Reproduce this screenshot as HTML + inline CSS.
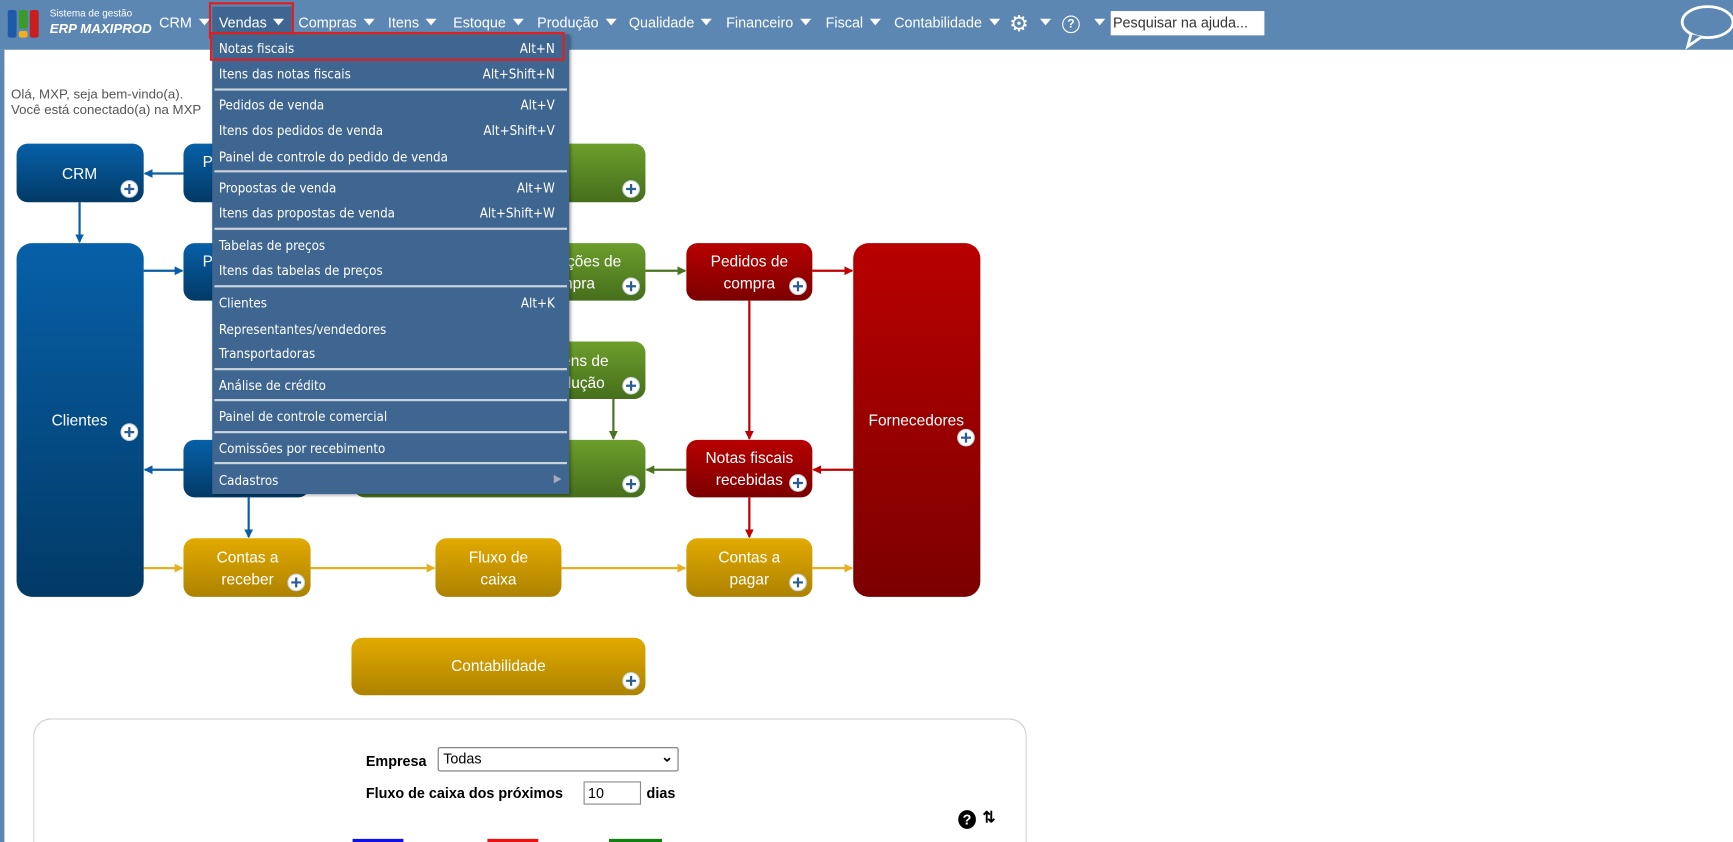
<!DOCTYPE html>
<html><head><meta charset="utf-8"><style>
html,body{margin:0;padding:0;width:1733px;height:842px;overflow:hidden;background:#fff;font-family:"Liberation Sans",sans-serif}
#w{position:absolute;left:0;top:0;width:1568px;height:762px;transform:scale(1.10523);transform-origin:0 0;overflow:hidden}
.nav{position:absolute;left:0;top:0;width:1568px;height:45px;background:#5c87b2}
.ni{position:absolute;top:13px;color:#fff;font-size:13px;white-space:nowrap}
.tri{display:inline-block;width:0;height:0;border-left:5px solid transparent;border-right:5px solid transparent;border-top:6px solid #fff;margin-left:6px;vertical-align:2px}
.menu{position:absolute;left:192px;top:31px;width:323px;height:416px;background:#3f6690;box-shadow:1px 1px 3px rgba(0,0,0,.4)}
.mi{position:absolute;left:6px;right:13px;color:#fff;font-family:"DejaVu Sans Condensed","Liberation Sans",sans-serif;font-size:12px}
.mi span{float:right}
.sep{position:absolute;left:2px;right:2px;height:2px;background:#c9d3dd}
.txt{position:absolute;font-size:12px;color:#555;left:10px}
</style></head><body><div id="w">
<div style="position:absolute;left:0;top:45px;width:4px;height:717px;background:#5c87b2"></div>
<div class="nav">
 <div style="position:absolute;left:7px;top:9px;width:8px;height:25px;background:#1e5aa8;border-radius:2px"></div>
 <div style="position:absolute;left:17px;top:9px;width:8px;height:17px;background:#3a9a2a;border-radius:2px"></div>
 <div style="position:absolute;left:17px;top:28px;width:8px;height:6px;background:#f0b020;border-radius:2px"></div>
 <div style="position:absolute;left:27px;top:9px;width:8px;height:25px;background:#c81e1e;border-radius:2px"></div>
 <div style="position:absolute;left:45px;top:7px;color:#fff;font-size:9px">Sistema de gestão</div>
 <div style="position:absolute;left:45px;top:19px;color:#fff;font-size:12px;font-weight:bold;font-style:italic">ERP MAXIPROD</div>
 <div class="ni" style="left:144px">CRM<i class="tri"></i></div>
 <div style="position:absolute;left:192px;top:6px;width:72px;height:30px;background:#3f6690"></div>
 <div style="position:absolute;left:189px;top:2px;width:77px;height:33px;border:2px solid #e02020;box-sizing:border-box"></div>
 <div class="ni" style="left:198px">Vendas<i class="tri"></i></div>
 <div class="ni" style="left:270px">Compras<i class="tri"></i></div>
 <div class="ni" style="left:351px">Itens<i class="tri"></i></div>
 <div class="ni" style="left:410px">Estoque<i class="tri"></i></div>
 <div class="ni" style="left:486px">Produção<i class="tri"></i></div>
 <div class="ni" style="left:569px">Qualidade<i class="tri"></i></div>
 <div class="ni" style="left:657px">Financeiro<i class="tri"></i></div>
 <div class="ni" style="left:747px">Fiscal<i class="tri"></i></div>
 <div class="ni" style="left:809px">Contabilidade<i class="tri"></i></div>
 <div class="ni" style="left:913px;top:9px;font-size:20px">⚙</div><div class="ni" style="left:935px"><i class="tri"></i></div>
 <div style="position:absolute;left:961px;top:14px;width:14px;height:14px;border:1.5px solid #fff;border-radius:50%;color:#fff;font-size:11px;text-align:center;line-height:14px;font-weight:bold">?</div>
 <div class="ni" style="left:984px"><i class="tri"></i></div>
 <div style="position:absolute;left:1005px;top:10px;width:139px;height:22px;background:#fff;font-size:13px;color:#333;line-height:22px;padding-left:2px;box-sizing:border-box">Pesquisar na ajuda...</div>
 <svg style="position:absolute;left:1518px;top:3px" width="54" height="42"><ellipse cx="27" cy="17" rx="23" ry="14" fill="none" stroke="#fff" stroke-width="2.5"/><path d="M12 28 L9 39 L22 30" fill="#5c87b2" stroke="#fff" stroke-width="2.5"/></svg>
</div>
<div class="txt" style="top:78px">Olá, MXP, seja bem-vindo(a).</div>
<div class="txt" style="top:92px">Você está conectado(a) na MXP</div>

<svg style="position:absolute;left:0;top:0" width="950" height="650">
<defs>
<linearGradient id="b" x1="0" y1="0" x2="0" y2="1"><stop offset="0" stop-color="#0760a8"/><stop offset="1" stop-color="#023a66"/></linearGradient>
<linearGradient id="g" x1="0" y1="0" x2="0" y2="1"><stop offset="0" stop-color="#6c9e2c"/><stop offset="1" stop-color="#466e1c"/></linearGradient>
<linearGradient id="r" x1="0" y1="0" x2="0" y2="1"><stop offset="0" stop-color="#b80000"/><stop offset="1" stop-color="#7c0000"/></linearGradient>
<linearGradient id="y" x1="0" y1="0" x2="0" y2="1"><stop offset="0" stop-color="#e2aa00"/><stop offset="1" stop-color="#ad8200"/></linearGradient>
<marker id="mb" markerWidth="8" markerHeight="8" refX="7" refY="4" orient="auto" markerUnits="userSpaceOnUse"><path d="M0 0L8 4L0 8z" fill="#0a5ea6"/></marker>
<marker id="mg" markerWidth="8" markerHeight="8" refX="7" refY="4" orient="auto" markerUnits="userSpaceOnUse"><path d="M0 0L8 4L0 8z" fill="#4a7420"/></marker>
<marker id="mr" markerWidth="8" markerHeight="8" refX="7" refY="4" orient="auto" markerUnits="userSpaceOnUse"><path d="M0 0L8 4L0 8z" fill="#c00000"/></marker>
<marker id="my" markerWidth="8" markerHeight="8" refX="7" refY="4" orient="auto" markerUnits="userSpaceOnUse"><path d="M0 0L8 4L0 8z" fill="#e6b020"/></marker>
<g id="p"><circle r="7.5" fill="#fff" stroke="#c8d4e0"/><path d="M-4.5 0H4.5M0 -4.5V4.5" stroke="#2a5c96" stroke-width="2"/></g>
</defs>
<g stroke-width="2" fill="none">
<path d="M166 157H131" stroke="#0a5ea6" marker-end="url(#mb)"/>
<path d="M72 183V219" stroke="#0a5ea6" marker-end="url(#mb)"/>
<path d="M130 245H165" stroke="#0a5ea6" marker-end="url(#mb)"/>
<path d="M166 425H131" stroke="#0a5ea6" marker-end="url(#mb)"/>
<path d="M225 450V486" stroke="#0a5ea6" marker-end="url(#mb)"/>
<path d="M584 245H620" stroke="#4a7420" marker-end="url(#mg)"/>
<path d="M555 361V397" stroke="#4a7420" marker-end="url(#mg)"/>
<path d="M621 425H585" stroke="#4a7420" marker-end="url(#mg)"/>
<path d="M735 245H771" stroke="#c00000" marker-end="url(#mr)"/>
<path d="M678 272V397" stroke="#c00000" marker-end="url(#mr)"/>
<path d="M772 425H736" stroke="#c00000" marker-end="url(#mr)"/>
<path d="M678 450V486" stroke="#c00000" marker-end="url(#mr)"/>
<path d="M130 514H165" stroke="#e6b020" marker-end="url(#my)"/>
<path d="M281 514H393" stroke="#e6b020" marker-end="url(#my)"/>
<path d="M508 514H620" stroke="#e6b020" marker-end="url(#my)"/>
<path d="M735 514H771" stroke="#e6b020" marker-end="url(#my)"/>
</g>
<g font-family="Liberation Sans,sans-serif" font-size="14" fill="#fff" text-anchor="middle">
<rect x="15" y="130" width="115" height="53" rx="10" fill="url(#b)"/><text x="72" y="162">CRM</text><use href="#p" x="117" y="171"/>
<rect x="166" y="130" width="114" height="53" rx="10" fill="url(#b)"/><text x="188" y="151">P</text>
<rect x="320" y="130" width="264" height="53" rx="10" fill="url(#g)"/><use href="#p" x="571" y="171"/>
<rect x="15" y="220" width="115" height="320" rx="14" fill="url(#b)"/><text x="72" y="385">Clientes</text><use href="#p" x="117" y="391"/>
<rect x="166" y="220" width="114" height="52" rx="10" fill="url(#b)"/><text x="188" y="241">P</text>
<rect x="440" y="220" width="144" height="52" rx="10" fill="url(#g)"/><text x="515" y="241">Solicitações de</text><text x="515" y="261">compra</text><use href="#p" x="571" y="259"/>
<rect x="621" y="220" width="114" height="52" rx="10" fill="url(#r)"/><text x="678" y="241">Pedidos de</text><text x="678" y="261">compra</text><use href="#p" x="722" y="259"/>
<rect x="772" y="220" width="115" height="320" rx="14" fill="url(#r)"/><text x="829" y="385">Fornecedores</text><use href="#p" x="874" y="396"/>
<rect x="440" y="309" width="144" height="52" rx="10" fill="url(#g)"/><text x="518" y="331">Ordens de</text><text x="518" y="351">produção</text><use href="#p" x="571" y="349"/>
<rect x="166" y="398" width="114" height="52" rx="10" fill="url(#b)"/>
<rect x="320" y="398" width="264" height="52" rx="10" fill="url(#g)"/><use href="#p" x="571" y="438"/>
<rect x="621" y="398" width="114" height="52" rx="10" fill="url(#r)"/><text x="678" y="419">Notas fiscais</text><text x="678" y="439">recebidas</text><use href="#p" x="722" y="437"/>
<rect x="166" y="487" width="115" height="53" rx="10" fill="url(#y)"/><text x="224" y="509">Contas a</text><text x="224" y="529">receber</text><use href="#p" x="268" y="527"/>
<rect x="394" y="487" width="114" height="53" rx="10" fill="url(#y)"/><text x="451" y="509">Fluxo de</text><text x="451" y="529">caixa</text>
<rect x="621" y="487" width="114" height="53" rx="10" fill="url(#y)"/><text x="678" y="509">Contas a</text><text x="678" y="529">pagar</text><use href="#p" x="722" y="527"/>
<rect x="318" y="577" width="266" height="52" rx="10" fill="url(#y)"/><text x="451" y="607">Contabilidade</text><use href="#p" x="571" y="616"/>
</g>
</svg>

<div class="menu">
 <div class="mi" style="top:6px">Notas fiscais<span>Alt+N</span></div>
 <div class="mi" style="top:29px">Itens das notas fiscais<span>Alt+Shift+N</span></div>
 <div class="sep" style="top:49px"></div>
 <div class="mi" style="top:57px">Pedidos de venda<span>Alt+V</span></div>
 <div class="mi" style="top:80px">Itens dos pedidos de venda<span>Alt+Shift+V</span></div>
 <div class="mi" style="top:104px">Painel de controle do pedido de venda</div>
 <div class="sep" style="top:123px"></div>
 <div class="mi" style="top:132px">Propostas de venda<span>Alt+W</span></div>
 <div class="mi" style="top:155px">Itens das propostas de venda<span>Alt+Shift+W</span></div>
 <div class="sep" style="top:175px"></div>
 <div class="mi" style="top:184px">Tabelas de preços</div>
 <div class="mi" style="top:207px">Itens das tabelas de preços</div>
 <div class="sep" style="top:227px"></div>
 <div class="mi" style="top:236px">Clientes<span>Alt+K</span></div>
 <div class="mi" style="top:260px">Representantes/vendedores</div>
 <div class="mi" style="top:282px">Transportadoras</div>
 <div class="sep" style="top:302px"></div>
 <div class="mi" style="top:311px">Análise de crédito</div>
 <div class="sep" style="top:330px"></div>
 <div class="mi" style="top:339px">Painel de controle comercial</div>
 <div class="sep" style="top:359px"></div>
 <div class="mi" style="top:368px">Comissões por recebimento</div>
 <div class="sep" style="top:387px"></div>
 <div class="mi" style="top:397px">Cadastros<span style="color:#aab;font-size:10px;margin-right:-6px">▶</span></div>
</div>
<div style="position:absolute;left:190px;top:29px;width:321px;height:26px;border:2px solid #e02020;box-sizing:border-box"></div>

<div style="position:absolute;left:30px;top:650px;width:899px;height:112px;border:1px solid #ccc;border-bottom:none;border-radius:16px 16px 0 0;box-sizing:border-box"></div>
<div style="position:absolute;left:331px;top:681px;font-size:13px;font-weight:bold">Empresa</div>
<div style="position:absolute;left:396px;top:676px;width:218px;height:22px;border:1px solid #777;border-radius:2px;box-sizing:border-box;font-size:13px;padding:2px 4px">Todas<span style="position:absolute;right:4px;top:0;font-weight:bold">⌄</span></div>
<div style="position:absolute;left:331px;top:710px;font-size:13px;font-weight:bold">Fluxo de caixa dos próximos</div>
<div style="position:absolute;left:528px;top:707px;width:52px;height:21px;border:1px solid #888;box-sizing:border-box;font-size:13px;padding:2px 3px">10</div>
<div style="position:absolute;left:585px;top:710px;font-size:13px;font-weight:bold">dias</div>
<div style="position:absolute;left:867px;top:733px;width:16px;height:17px;background:#000;border-radius:50%;color:#fff;font-size:13px;font-weight:bold;text-align:center;line-height:17px">?</div>
<div style="position:absolute;left:889px;top:731px;font-size:14px;font-weight:bold">⇅</div>
<div style="position:absolute;left:319px;top:759px;width:46px;height:3px;background:#1010ee"></div>
<div style="position:absolute;left:441px;top:759px;width:46px;height:3px;background:#ee1010"></div>
<div style="position:absolute;left:551px;top:759px;width:48px;height:3px;background:#108010"></div>
</div></body></html>
